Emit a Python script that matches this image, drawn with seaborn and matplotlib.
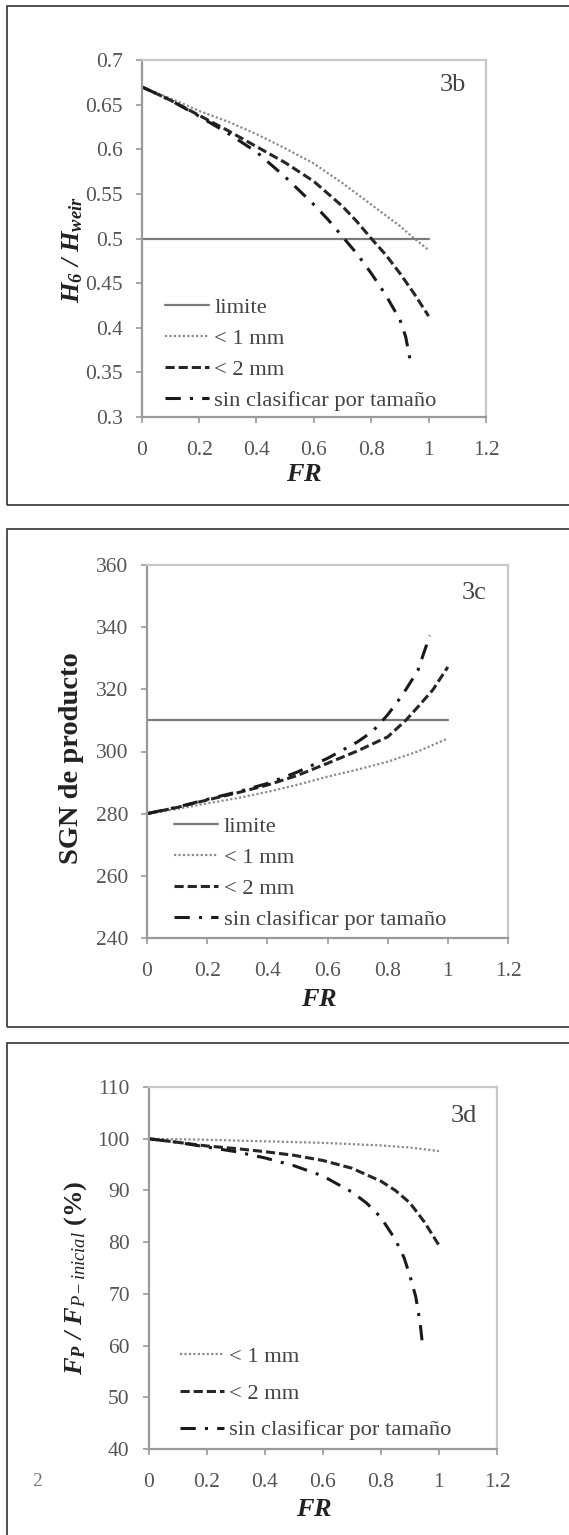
import numpy as np
import pandas as pd
import matplotlib
matplotlib.use("Agg")
import matplotlib.pyplot as plt
import matplotlib.patches as patches
import seaborn as sns

# data (FR on x)
fr_limit = [0, 1.0]

# panel 3b : H6 / Hweir
h_limit = [0.5, 0.5]
h_fr_1mm = [0, 0.1, 0.2, 0.3, 0.4, 0.5, 0.6, 0.7, 0.8, 0.9, 0.95, 1.0]
h_1mm = [0.67, 0.657, 0.643, 0.631, 0.617, 0.601, 0.584, 0.562, 0.538, 0.514, 0.500, 0.487]
h_fr_2mm = [0, 0.1, 0.2, 0.3, 0.4, 0.5, 0.6, 0.7, 0.75, 0.8, 0.85, 0.9, 0.95, 1.0]
h_2mm = [0.67, 0.655, 0.638, 0.621, 0.603, 0.585, 0.564, 0.536, 0.519, 0.500, 0.482, 0.461, 0.438, 0.413]
h_fr_all = [0, 0.1, 0.2, 0.3, 0.4, 0.5, 0.6, 0.65, 0.7, 0.75, 0.8, 0.85, 0.9, 0.92, 0.935]
h_all = [0.67, 0.655, 0.637, 0.618, 0.597, 0.569, 0.538, 0.521, 0.502, 0.483, 0.461, 0.437, 0.409, 0.390, 0.365]

# panel 3c : SGN de producto
s_limit = [310, 310]
s_fr_1mm = [0, 0.1, 0.2, 0.3, 0.4, 0.5, 0.6, 0.7, 0.8, 0.9, 1.0]
s_1mm = [280, 281.5, 283.3, 285.0, 287.0, 289.3, 291.9, 294.2, 296.7, 300.0, 304.2]
s_fr_2mm = [0, 0.1, 0.2, 0.3, 0.4, 0.5, 0.6, 0.7, 0.8, 0.86, 0.9, 0.95, 1.0]
s_2mm = [280, 282.0, 284.4, 286.7, 289.2, 292.3, 296.2, 300.2, 304.7, 310.0, 314.3, 319.8, 327.2]
s_fr_all = [0, 0.1, 0.2, 0.3, 0.4, 0.5, 0.6, 0.7, 0.75, 0.8, 0.85, 0.9, 0.94]
s_all = [280, 282.1, 284.6, 287.0, 289.7, 293.4, 297.8, 303.1, 306.5, 311.8, 318.3, 326.0, 337.3]

# panel 3d : Fp / Fp-inicial (%)
f_fr_1mm = [0, 0.2, 0.4, 0.6, 0.8, 0.9, 1.0]
f_1mm = [100, 99.8, 99.5, 99.2, 98.7, 98.3, 97.6]
f_fr_2mm = [0, 0.1, 0.2, 0.3, 0.4, 0.5, 0.6, 0.7, 0.8, 0.85, 0.9, 0.95, 1.0]
f_2mm = [100, 99.3, 98.6, 98.1, 97.5, 96.8, 95.8, 94.3, 91.8, 90.0, 87.6, 83.9, 79.4]
f_fr_all = [0, 0.1, 0.2, 0.3, 0.4, 0.5, 0.6, 0.7, 0.75, 0.8, 0.85, 0.88, 0.9, 0.92, 0.935, 0.945]
f_all = [100, 99.3, 98.4, 97.5, 96.3, 94.8, 92.8, 89.7, 87.6, 84.8, 80.5, 77.0, 73.5, 69.5, 64.5, 59.4]

x_ticks = [0, 0.2, 0.4, 0.6, 0.8, 1.0, 1.2]
x_ticklabels = ['0', '0.2', '0.4', '0.6', '0.8', '1', '1.2']
h_ticks = [0.3, 0.35, 0.4, 0.45, 0.5, 0.55, 0.6, 0.65, 0.7]
h_ticklabels = ['0.3', '0.35', '0.4', '0.45', '0.5', '0.55', '0.6', '0.65', '0.7']
s_ticks = [240, 260, 280, 300, 320, 340, 360]
f_ticks = [40, 50, 60, 70, 80, 90, 100, 110]

lbl_limit = 'limite'
lbl_1mm = '< 1 mm'
lbl_2mm = '< 2 mm'
lbl_all = 'sin clasificar por tamaño'

sns.set_theme(style='white')
plt.rcParams['font.family'] = ['Liberation Serif', 'DejaVu Serif']
plt.rcParams['mathtext.fontset'] = 'custom'
plt.rcParams['mathtext.rm'] = 'Liberation Serif'
plt.rcParams['mathtext.it'] = 'Liberation Serif:italic'
plt.rcParams['mathtext.bf'] = 'Liberation Serif:bold'
plt.rcParams['mathtext.bfit'] = 'Liberation Serif:bold:italic'

W, H = 569, 1535
fig = plt.figure(figsize=(W / 100, H / 100), dpi=100)

def px_axes(left, top, right, bottom):
    return fig.add_axes([left / W, 1 - bottom / H, (right - left) / W, (bottom - top) / H])

tick_col = '#555555'
style_limit = dict(color='#7a7a7a', linewidth=1.6, linestyle='-')
style_1mm = dict(color='#8c8c8c', linewidth=1.6, linestyle=(0, (1, 1)))
style_2mm = dict(color='#262626', linewidth=2.2, linestyle=(0, (3, 1.3)))
style_all = dict(color='#1a1a1a', linewidth=2.2, linestyle=(0, (5, 3, 1, 3)))
leg_kw = dict(loc='upper left', frameon=False, fontsize=16.2, handlelength=1.95,
              handletextpad=0.25, borderpad=0, borderaxespad=0, labelcolor='#444444')

def style_axes(ax, yticks, yticklabels, xlab_pos, ylab_pos):
    ax.set_xlim(0, 1.2)
    ax.set_xticks(x_ticks)
    ax.set_xticklabels(x_ticklabels)
    ax.set_yticks(yticks)
    ax.set_yticklabels(yticklabels)
    for side in ['top', 'right']:
        ax.spines[side].set_color('#c8c8c8')
        ax.spines[side].set_linewidth(1.6)
    for side in ['left', 'bottom']:
        ax.spines[side].set_color('#9a9a9a')
        ax.spines[side].set_linewidth(1.6)
    ax.tick_params(axis='both', direction='out', length=4, width=1.2, color='#9a9a9a',
                   labelsize=15.5, labelcolor=tick_col, left=True, bottom=True)
    ax.tick_params(axis='x', pad=13)
    ax.tick_params(axis='y', pad=9.5)
    ax.set_xlabel(r'$\mathbfit{FR}$', fontsize=19, color='#222222')
    ax.xaxis.set_label_coords(*xlab_pos)
    ax.yaxis.set_label_coords(*ylab_pos)

# panel borders (screenshot frames)
for top, bottom in [(6, 505), (529, 1027), (1043, 1545)]:
    fig.patches.append(patches.Rectangle((6.5 / W, 1 - bottom / H), 1.2, (bottom - top) / H,
                                         transform=fig.transFigure, fill=False,
                                         edgecolor='#333333', linewidth=1.2))

# ---- 3b ----
ax1 = px_axes(141.7, 60, 486, 417)
sns.lineplot(x=fr_limit, y=h_limit, ax=ax1, label=lbl_limit, **style_limit)
sns.lineplot(x=h_fr_1mm, y=h_1mm, ax=ax1, label=lbl_1mm, **style_1mm)
sns.lineplot(x=h_fr_2mm, y=h_2mm, ax=ax1, label=lbl_2mm, **style_2mm)
sns.lineplot(x=h_fr_all, y=h_all, ax=ax1, label=lbl_all, **style_all)
ax1.set_ylim(0.3, 0.7)
ax1.set_ylabel(r'$\mathbfit{H}_{\mathbfit{6}}$ $\mathbfit{/}$ $\mathbfit{H}_{\mathbfit{weir}}$',
               fontsize=19, color='#222222')
style_axes(ax1, h_ticks, h_ticklabels, (0.473, -0.132), (-0.165, 0.468))
ax1.text(0.905, 0.93, '3b', transform=ax1.transAxes, fontsize=19, color='#444444',
         ha='center', va='center')
ax1.legend(bbox_to_anchor=(0.0675, 0.336), labelspacing=0.46, **leg_kw)

# ---- 3c ----
ax2 = px_axes(147, 565, 508, 938)
sns.lineplot(x=fr_limit, y=s_limit, ax=ax2, label=lbl_limit, **style_limit)
sns.lineplot(x=s_fr_1mm, y=s_1mm, ax=ax2, label=lbl_1mm, **style_1mm)
sns.lineplot(x=s_fr_2mm, y=s_2mm, ax=ax2, label=lbl_2mm, **style_2mm)
sns.lineplot(x=s_fr_all, y=s_all, ax=ax2, label=lbl_all, **style_all)
ax2.set_ylim(240, 360)
ax2.set_ylabel('SGN de producto', fontsize=20.5, fontweight='bold', color='#222222')
style_axes(ax2, s_ticks, [str(t) for t in s_ticks], (0.476, -0.137), (-0.175, 0.483))
ax2.text(0.905, 0.925, '3c', transform=ax2.transAxes, fontsize=19, color='#444444',
         ha='center', va='center')
ax2.legend(bbox_to_anchor=(0.075, 0.327), labelspacing=0.46, **leg_kw)

# ---- 3d ----
ax3 = px_axes(148.5, 1087, 497, 1449)
sns.lineplot(x=f_fr_1mm, y=f_1mm, ax=ax3, label=lbl_1mm, **style_1mm)
sns.lineplot(x=f_fr_2mm, y=f_2mm, ax=ax3, label=lbl_2mm, **style_2mm)
sns.lineplot(x=f_fr_all, y=f_all, ax=ax3, label=lbl_all, **style_all)
ax3.set_ylim(40, 110)
ax3.set_ylabel(r'$\mathbfit{F}_{\mathbfit{P}}$ $\mathbfit{/}$ $\mathbfit{F}_{\mathit{P-inicial}}$ $\mathbf{(\%)}$',
               fontsize=19, color='#222222')
style_axes(ax3, f_ticks, [str(t) for t in f_ticks], (0.475, -0.138), (-0.17, 0.472))
ax3.text(0.905, 0.92, '3d', transform=ax3.transAxes, fontsize=19, color='#444444',
         ha='center', va='center')
ax3.legend(bbox_to_anchor=(0.09, 0.284), labelspacing=0.71, **leg_kw)

# stray character at the left of the last frame
fig.text(37 / W, 1 - 1482 / H, '2', fontsize=14, color='#777777', ha='center', va='center')

fig.savefig('out.png', dpi=100)
